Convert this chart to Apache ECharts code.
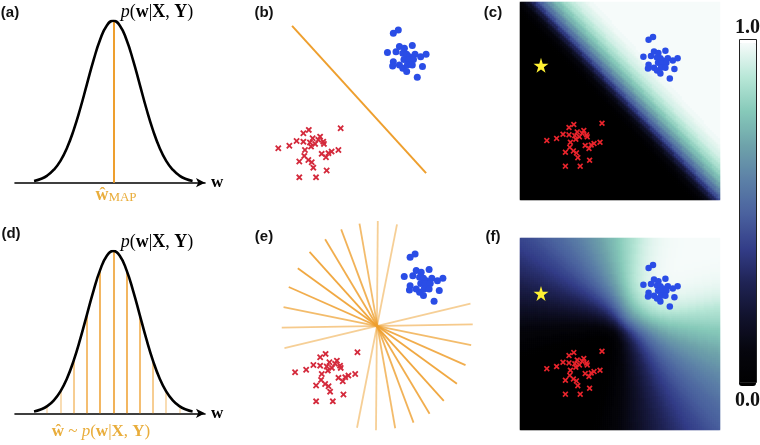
<!DOCTYPE html>
<html>
<head>
<meta charset="utf-8">
<script src="https://cdn.jsdelivr.net/npm/echarts@6/dist/echarts.min.js"></script>
<style>
html, body { margin: 0; padding: 0; background: #fff; }
#chart { width: 760px; height: 445px; }
</style>
</head>
<body>
<div id="chart"></div>
<script>
// posterior p(w|X,Y) as drawn in (a) and (d), w in units of its spread
const curveW = [-3, -2.75, -2.5, -2.25, -2, -1.75, -1.5, -1.25, -1, -0.75, -0.5, -0.25, 0,
  0.25, 0.5, 0.75, 1, 1.25, 1.5, 1.75, 2, 2.25, 2.5, 2.75, 3];
const curveP = [0.011, 0.023, 0.044, 0.080, 0.135, 0.216, 0.325, 0.458, 0.607, 0.755, 0.882, 0.969, 1.0,
  0.969, 0.882, 0.755, 0.607, 0.458, 0.325, 0.216, 0.135, 0.080, 0.044, 0.023, 0.011];
const mapW = 0;
const mapP = 1.0;
// samples drawn in (d)
const sampleW = [-2.5, -2, -1.5, -1, -0.5, 0, 0.5, 1, 1.5, 2, 2.5];
const sampleP = [0.044, 0.135, 0.325, 0.607, 0.882, 1.0, 0.882, 0.607, 0.325, 0.135, 0.044];
const sampleAlpha = [0.35, 0.45, 0.65, 0.85, 0.95, 1, 0.95, 0.85, 0.65, 0.45, 0.35];

// the two classes (same points in b, c, e, f)
const blueX = [6.43, 6.65, 6.17, 6.55, 6.70, 6.92, 7.27, 6.85, 7.02, 7.14, 7.39, 7.64, 7.88,
  6.90, 7.10, 7.32, 6.43, 6.40, 6.70, 6.85, 7.05, 7.27, 7.02, 7.72, 7.49];
const blueY = [8.09, 8.23, 7.24, 7.27, 7.50, 7.42, 7.54, 7.20, 7.16, 7.05, 7.16, 7.05, 7.16,
  6.93, 6.91, 6.93, 6.83, 6.64, 6.68, 6.54, 6.68, 6.68, 6.39, 6.61, 6.14];
const redX = [1.34, 1.83, 2.15, 2.45, 2.69, 4.10, 3.19, 2.86, 2.45, 2.74, 2.97, 3.33, 3.36, 4.00,
  3.70, 3.56, 3.26, 2.52, 2.49, 2.27, 2.67, 2.82, 2.89, 3.45, 3.48, 2.27, 3.01, 2.79, 3.11];
const redY = [3.00, 3.11, 3.32, 3.66, 3.81, 3.88, 3.51, 3.44, 3.29, 3.25, 3.19, 3.29, 3.19, 2.92,
  2.85, 2.78, 2.75, 2.92, 2.66, 2.41, 2.48, 2.38, 2.14, 2.60, 2.01, 1.71, 1.71, 3.07, 3.37];
const starPoint = [1.05, 6.8];

// MAP decision boundary in (b)
const mapLine = [[1.95, 8.41], [7.88, 1.90]];
// sampled boundaries in (e): x1, y1, x2, y2
const sampleLines = [
  [4.19, 9.57, 5.77, 0.52], [5.00, 9.69, 4.92, 0.43], [5.85, 9.54, 4.08, 0.54],
  [3.38, 9.32, 6.58, 0.77], [2.67, 8.88, 7.29, 1.16], [1.98, 8.32, 7.92, 1.73],
  [1.46, 7.60, 8.50, 2.49], [1.06, 6.77, 8.88, 3.31], [0.83, 5.88, 9.13, 4.20],
  [0.75, 4.97, 9.20, 5.12], [0.87, 4.06, 9.10, 6.03]
];
const sampleLineAlpha = [0.7, 0.5, 0.5, 0.8, 0.85, 0.9, 0.9, 0.85, 0.7, 0.55, 0.5];

// class-1 probability against distance from a boundary (read across the band in c),
// distance from -0.8 in steps of 0.1; 0 before, 1 after
const profileD0 = -0.8;
const profileStep = 0.1;
const profileP = [0.00, 0.01, 0.02, 0.04, 0.06, 0.09, 0.13, 0.18, 0.24, 0.31, 0.38, 0.45,
  0.51, 0.56, 0.61, 0.66, 0.70, 0.74, 0.77, 0.80, 0.83, 0.86, 0.88, 0.90, 0.92, 0.94,
  0.95, 0.96, 0.97, 0.98, 0.99, 0.99, 1.00];

const colorMap = ['#000000', '#06060d', '#11122c', '#1f2354', '#333d88', '#4a619e',
  '#5c80a7', '#6ea2aa', '#86c9b9', '#b8e7d7', '#f6fbfa'];

const ORANGE = '#EE9F2E';
const LABEL_ORANGE = '#E9AD3B';
const BLUE = '#2A4DE6';
const CROSS = 'path://M0,2L2,0L5,3L8,0L10,2L7,5L10,8L8,10L5,7L2,10L0,8L3,5Z';
const STAR = 'path://M50,0L61,35L98,35L68,57L79,91L50,70L21,91L32,57L2,35L39,35Z';

const pts = (xs, ys) => xs.map((x, i) => [x, ys[i]]);
const mean = (a) => a.reduce((s, v) => s + v, 0) / a.length;
const blueC = [mean(blueX), mean(blueY)];

// unit normal of a boundary, pointing to the blue class
function boundary(x1, y1, x2, y2) {
  let nx = y2 - y1, ny = -(x2 - x1);
  const len = Math.hypot(nx, ny);
  nx /= len; ny /= len;
  if (nx * (blueC[0] - x1) + ny * (blueC[1] - y1) < 0) { nx = -nx; ny = -ny; }
  return { x1, y1, nx, ny };
}
function prob(b, x, y) {
  const d = b.nx * (x - b.x1) + b.ny * (y - b.y1);
  const k = Math.round((d - profileD0) / profileStep);
  return k < 0 ? profileP[0] : profileP[Math.min(k, profileP.length - 1)];
}
const mapB = boundary(mapLine[0][0], mapLine[0][1], mapLine[1][0], mapLine[1][1]);
const sampleB = sampleLines.map((l) => boundary(l[0], l[1], l[2], l[3]));

const cY = [0, 10], fY = [-0.1, 9.6];
const NX = 100, CNY = 99, FNY = 96;
const idx = (n) => [...Array(n).keys()].map(String);
const cData = [], fData = [];
for (let i = 0; i < NX; i++) {
  const x = (i + 0.5) * 10 / NX;
  for (let j = 0; j < CNY; j++) {
    const y = cY[0] + (j + 0.5) * (cY[1] - cY[0]) / CNY;
    cData.push([i, j, prob(mapB, x, y)]);
  }
  for (let j = 0; j < FNY; j++) {
    const y = fY[0] + (j + 0.5) * (fY[1] - fY[0]) / FNY;
    fData.push([i, j, mean(sampleB.map((b) => prob(b, x, y)))]);
  }
}

const curve = pts(curveW, curveP);

const grids = [
  { left: 15, top: 20.7, width: 190, height: 162 },      // 0 (a)
  { left: 248, top: 1.3, width: 226, height: 214.7 },    // 1 (b)
  { left: 520, top: 2, width: 200, height: 198 },        // 2 (c) heat
  { left: 520, top: 2, width: 200, height: 198 },        // 3 (c) points
  { left: 15, top: 251, width: 190, height: 162.3 },     // 4 (d)
  { left: 264.8, top: 214, width: 226, height: 226 },    // 5 (e)
  { left: 520, top: 238, width: 200, height: 192 },      // 6 (f) heat
  { left: 520, top: 238, width: 200, height: 192 }       // 7 (f) points
];

const wAxis = (g) => ({
  type: 'value', gridIndex: g, min: -3.72, max: 3.47,
  axisLine: { show: true, onZero: false, symbol: ['none', 'arrow'], symbolSize: [7, 9],
    lineStyle: { color: '#000', width: 1.6 } },
  axisTick: { show: false }, axisLabel: { show: false }, splitLine: { show: false },
  name: 'w', nameLocation: 'end', nameGap: 6,
  nameTextStyle: { fontFamily: 'Liberation Serif', fontWeight: 'bold', fontSize: 17, color: '#000' }
});
const hidden = (g, min, max) => ({ type: 'value', gridIndex: g, min, max, show: false, splitLine: { show: false } });
const cat = (g, n) => ({ type: 'category', gridIndex: g, data: idx(n), show: false });

const xAxis = [wAxis(0), hidden(1, 0, 10), cat(2, NX), hidden(3, 0, 10), wAxis(4), hidden(5, 0, 10), cat(6, NX), hidden(7, 0, 10)];
const yAxis = [hidden(0, 0, 1), hidden(1, 0, 9.5), cat(2, CNY), hidden(3, cY[0], cY[1]), hidden(4, 0, 1),
  hidden(5, 0, 10), cat(6, FNY), hidden(7, fY[0], fY[1])];

const series = [];
const add = (s) => { series.push(Object.assign({ silent: true, animation: false }, s)); return series.length - 1; };

function curveSeries(g) {
  add({ type: 'line', xAxisIndex: g, yAxisIndex: g, data: curve, smooth: true, showSymbol: false,
    lineStyle: { color: '#000', width: 2.6 }, z: 5 });
}
function classSeries(g, blueSize, crossSize, crossColor) {
  add({ type: 'scatter', xAxisIndex: g, yAxisIndex: g, data: pts(blueX, blueY),
    symbolSize: blueSize, itemStyle: { color: BLUE, opacity: 1 }, z: 6 });
  add({ type: 'scatter', xAxisIndex: g, yAxisIndex: g, data: pts(redX, redY),
    symbol: CROSS, symbolSize: crossSize, itemStyle: { color: crossColor, opacity: 1 }, z: 6 });
}
function starSeries(g) {
  add({ type: 'scatter', xAxisIndex: g, yAxisIndex: g, data: [starPoint], symbol: STAR,
    symbolSize: 15, itemStyle: { color: '#FFF133', opacity: 1 }, z: 7 });
}
function heatSeries(g, data) {
  return add({ type: 'heatmap', xAxisIndex: g, yAxisIndex: g, data, progressive: 0,
    emphasis: { disabled: true } });
}

// (a)
add({ type: 'lines', coordinateSystem: 'cartesian2d', xAxisIndex: 0, yAxisIndex: 0,
  data: [{ coords: [[mapW, 0], [mapW, mapP]] }], lineStyle: { color: ORANGE, width: 2, opacity: 1 }, z: 3 });
curveSeries(0);

// (b)
classSeries(1, 7, 6.5, '#D42A3C');
add({ type: 'line', xAxisIndex: 1, yAxisIndex: 1, data: mapLine, showSymbol: false,
  lineStyle: { color: ORANGE, width: 2 } });

// (c)
const cHeat = heatSeries(2, cData);
classSeries(3, 6.5, 6, '#E8242C');
starSeries(3);

// (d)
add({ type: 'lines', coordinateSystem: 'cartesian2d', xAxisIndex: 4, yAxisIndex: 4,
  data: sampleW.map((w, i) => ({ coords: [[w, 0], [w, sampleP[i]]], lineStyle: { opacity: sampleAlpha[i] } })),
  lineStyle: { color: ORANGE, width: 1.6 }, z: 3 });
curveSeries(4);

// (e)
add({ type: 'lines', coordinateSystem: 'cartesian2d', xAxisIndex: 5, yAxisIndex: 5,
  data: sampleLines.map((l, i) => ({ coords: [[l[0], l[1]], [l[2], l[3]]], lineStyle: { opacity: sampleLineAlpha[i] } })),
  lineStyle: { color: ORANGE, width: 1.8 }, z: 3 });
classSeries(5, 7, 6.5, '#D42A3C');

// (f)
const fHeat = heatSeries(6, fData);
classSeries(7, 6.5, 6, '#E8242C');
starSeries(7);

const serif = 'Liberation Serif';
const mathRich = (size) => ({
  i: { fontFamily: serif, fontStyle: 'italic', fontSize: size },
  b: { fontFamily: serif, fontWeight: 'bold', fontSize: size },
  s: { fontFamily: serif, fontSize: 13, padding: [6, 0, 0, 0] }
});
const label = (text, x, y, style) => ({
  text, left: x, top: y, textAlign: 'center', textVerticalAlign: 'middle', padding: 0,
  textStyle: Object.assign({ fontFamily: serif, fontWeight: 'normal' }, style)
});
const panel = (t, x, y) => label(t, x, y, { fontFamily: 'Liberation Sans', fontWeight: 'bold', fontSize: 15, color: '#111' });
const math = (t, x, y, color, size) => {
  const r = mathRich(size);
  return label(t, x, y, { fontSize: size, color,
    rich: Object.keys(r).reduce((o, k) => (o[k] = Object.assign({ color }, r[k]), o), {}) });
};

const title = [
  panel('(a)', 10, 13), panel('(b)', 264, 13), panel('(c)', 493, 13),
  panel('(d)', 11, 234), panel('(e)', 264, 237), panel('(f)', 493, 237),
  math('{i|p}({b|w}|{b|X}, {b|Y})', 157, 12, '#000', 18),
  math('{i|p}({b|w}|{b|X}, {b|Y})', 157, 242, '#000', 18),
  math('{b|ŵ}{s|MAP}', 116, 195, LABEL_ORANGE, 18),
  math('{b|ŵ} ~ {i|p}({b|w}|{b|X}, {b|Y})', 101, 432, LABEL_ORANGE, 17)
];

const chart = echarts.init(document.getElementById('chart'));
chart.setOption({
  backgroundColor: '#fff',
  animation: false,
  title,
  grid: grids,
  xAxis,
  yAxis,
  visualMap: {
    type: 'continuous', min: 0, max: 1, seriesIndex: [cHeat, fHeat], calculable: false,
    orient: 'vertical', left: 735, top: 18, itemWidth: 17, itemHeight: 343, padding: 0,
    text: ['1.0', '0.0'], textGap: 5,
    textStyle: { fontFamily: serif, fontWeight: 'bold', fontSize: 20, color: '#111' },
    inRange: { color: colorMap }
  },
  graphic: [{
    type: 'rect', shape: { x: 739.5, y: 39.5, width: 17, height: 343 },
    style: { fill: 'none', stroke: '#222', lineWidth: 1 }, silent: true, z: 100
  }],
  series
});
</script>
</body>
</html>
